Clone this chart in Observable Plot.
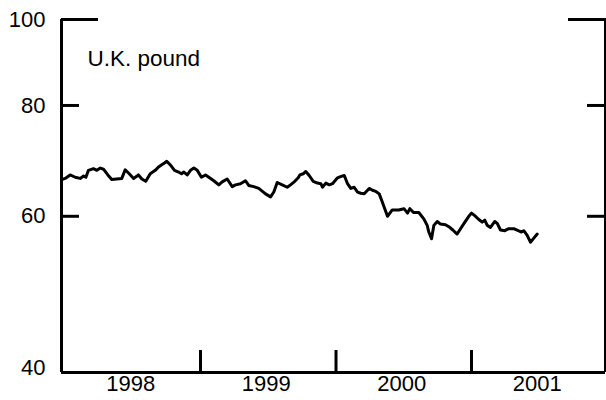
<!DOCTYPE html>
<html>
<head>
<meta charset="utf-8">
<script src="https://cdn.jsdelivr.net/npm/d3@7"></script>
<script src="https://cdn.jsdelivr.net/npm/@observablehq/plot@0.6"></script>
<style>
  html, body { margin: 0; padding: 0; background: #fff; }
</style>
</head>
<body>
<div id="chart"></div>
<script>
// Series title
const seriesName = "U.K. pound";

// Time (decimal years) and index values
const years = [
  1997.976, 1998.001, 1998.038, 1998.075, 1998.112, 1998.137, 1998.154, 1998.173, 1998.210, 1998.235,
  1998.260, 1998.284, 1998.316, 1998.345, 1998.382, 1998.419, 1998.444, 1998.474, 1998.506, 1998.542,
  1998.567, 1998.596, 1998.629, 1998.666, 1998.690, 1998.714, 1998.734, 1998.751, 1998.776, 1998.808,
  1998.838, 1998.860, 1998.877, 1998.902, 1998.926, 1998.951, 1998.976, 1999.007, 1999.037, 1999.061,
  1999.098, 1999.135, 1999.160, 1999.197, 1999.234, 1999.258, 1999.295, 1999.332, 1999.356, 1999.393,
  1999.430, 1999.480, 1999.517, 1999.541, 1999.566, 1999.603, 1999.640, 1999.664, 1999.696, 1999.721,
  1999.733, 1999.758, 1999.777, 1999.802, 1999.832, 1999.863, 1999.888, 1999.900, 1999.925, 1999.950,
  1999.974, 2000.011, 2000.043, 2000.061, 2000.085, 2000.109, 2000.134, 2000.159, 2000.183, 2000.208,
  2000.245, 2000.269, 2000.294, 2000.319, 2000.343, 2000.380, 2000.415, 2000.463, 2000.502, 2000.528,
  2000.545, 2000.572, 2000.611, 2000.648, 2000.673, 2000.685, 2000.705, 2000.722, 2000.747, 2000.771,
  2000.808, 2000.833, 2000.862, 2000.894, 2000.919, 2000.951, 2000.980, 2001.000, 2001.024, 2001.054,
  2001.079, 2001.098, 2001.116, 2001.140, 2001.172, 2001.190, 2001.214, 2001.246, 2001.275, 2001.312,
  2001.345, 2001.369, 2001.386, 2001.411, 2001.435, 2001.460, 2001.485
];
const values = [
  66.0, 66.2, 66.8, 66.4, 66.2, 66.6, 66.4, 67.6, 67.9, 67.6,
  68.0, 67.8, 66.8, 66.0, 66.1, 66.2, 67.7, 67.0, 66.2, 66.8,
  66.1, 65.7, 67.0, 67.6, 68.2, 68.6, 68.9, 69.2, 68.6, 67.6,
  67.3, 67.0, 67.3, 66.8, 67.6, 68.0, 67.6, 66.4, 66.8, 66.4,
  65.8, 65.1, 65.6, 66.1, 64.8, 65.1, 65.3, 65.8, 65.0, 64.8,
  64.5, 63.6, 63.1, 63.9, 65.5, 65.1, 64.7, 65.1, 65.7, 66.3,
  66.8, 67.0, 67.4, 66.7, 65.7, 65.4, 65.3, 64.7, 65.4, 65.1,
  65.3, 66.3, 66.6, 66.7, 65.3, 64.5, 64.7, 63.9, 63.7, 63.6,
  64.5, 64.2, 64.0, 63.6, 62.2, 60.0, 61.0, 61.0, 61.2, 60.5,
  61.2, 60.6, 60.6, 59.6, 58.6, 57.6, 56.6, 58.6, 59.2, 58.8,
  58.7, 58.4, 57.9, 57.3, 58.1, 59.1, 60.0, 60.5, 60.1, 59.5,
  59.1, 59.4, 58.6, 58.3, 59.2, 58.9, 57.9, 57.8, 58.1, 58.1,
  57.8, 57.6, 57.8, 57.1, 56.1, 56.7, 57.3
];

// Axes
const xDomain = [1997.974, 2001.989];
const yDomain = [40, 100];
const yearBoundaries = [1999, 2000, 2001];
const yearCenters = [1998.5, 1999.5, 2000.5, 2001.5];
const yTickLabels = [100, 80, 60];
const yShortTicks = [80, 60];
const yTopTick = [100];
const yBottomLabel = [40];

const data = years.map((t, i) => ({year: t, value: values[i]}));

const W = 3;
const chart = Plot.plot({
  width: 606,
  height: 400,
  marginTop: 19,
  marginBottom: 28,
  marginLeft: 61,
  marginRight: 1,
  style: {fontSize: "22px", fontFamily: "'Liberation Sans', Arial, Helvetica, sans-serif", color: "#000", background: "#fff"},
  x: {type: "linear", domain: xDomain},
  y: {type: "log", domain: yDomain},
  marks: [
    // frame lines: left, right, bottom
    Plot.ruleX([xDomain[0]], {stroke: "#000", strokeWidth: W}),
    Plot.ruleX([xDomain[1]], {stroke: "#000", strokeWidth: W}),
    Plot.ruleY([yDomain[0]], {stroke: "#000", strokeWidth: W}),
    // inward ticks on left
    Plot.axisY(yTopTick, {anchor: "left", tickSize: -37, strokeWidth: W, tickFormat: () => "", label: null}),
    Plot.axisY(yShortTicks, {anchor: "left", tickSize: -18, strokeWidth: W, tickFormat: () => "", label: null}),
    // inward ticks on right
    Plot.axisY(yTopTick, {anchor: "right", tickSize: -38, strokeWidth: W, tickFormat: () => "", label: null}),
    Plot.axisY(yShortTicks, {anchor: "right", tickSize: -19, strokeWidth: W, tickFormat: () => "", label: null}),
    // y labels
    Plot.axisY(yTickLabels, {anchor: "left", tickSize: 0, tickPadding: 16, label: null, fontSize: 22}),
    Plot.axisY(yBottomLabel, {anchor: "left", tickSize: 0, tickPadding: 16, dy: -5, label: null, fontSize: 22}),
    // x ticks at year boundaries (inward)
    Plot.axisX(yearBoundaries, {anchor: "bottom", tickSize: -22, strokeWidth: W, tickFormat: () => "", label: null}),
    // x year labels centred in each year
    Plot.axisX(yearCenters, {anchor: "bottom", tickSize: 0, tickPadding: 3, dx: -2, tickFormat: d => String(Math.floor(d)), label: null, fontSize: 22}),
    // the series
    Plot.line(data, {x: "year", y: "value", stroke: "#000", strokeWidth: 3, strokeLinejoin: "round"}),
    // series name
    Plot.text([seriesName], {frameAnchor: "top-left", dx: 26, dy: 31, textAnchor: "start", lineAnchor: "top", fontSize: 22.5, fill: "#000"})
  ]
});
document.getElementById("chart").appendChild(chart);
</script>
</body>
</html>
